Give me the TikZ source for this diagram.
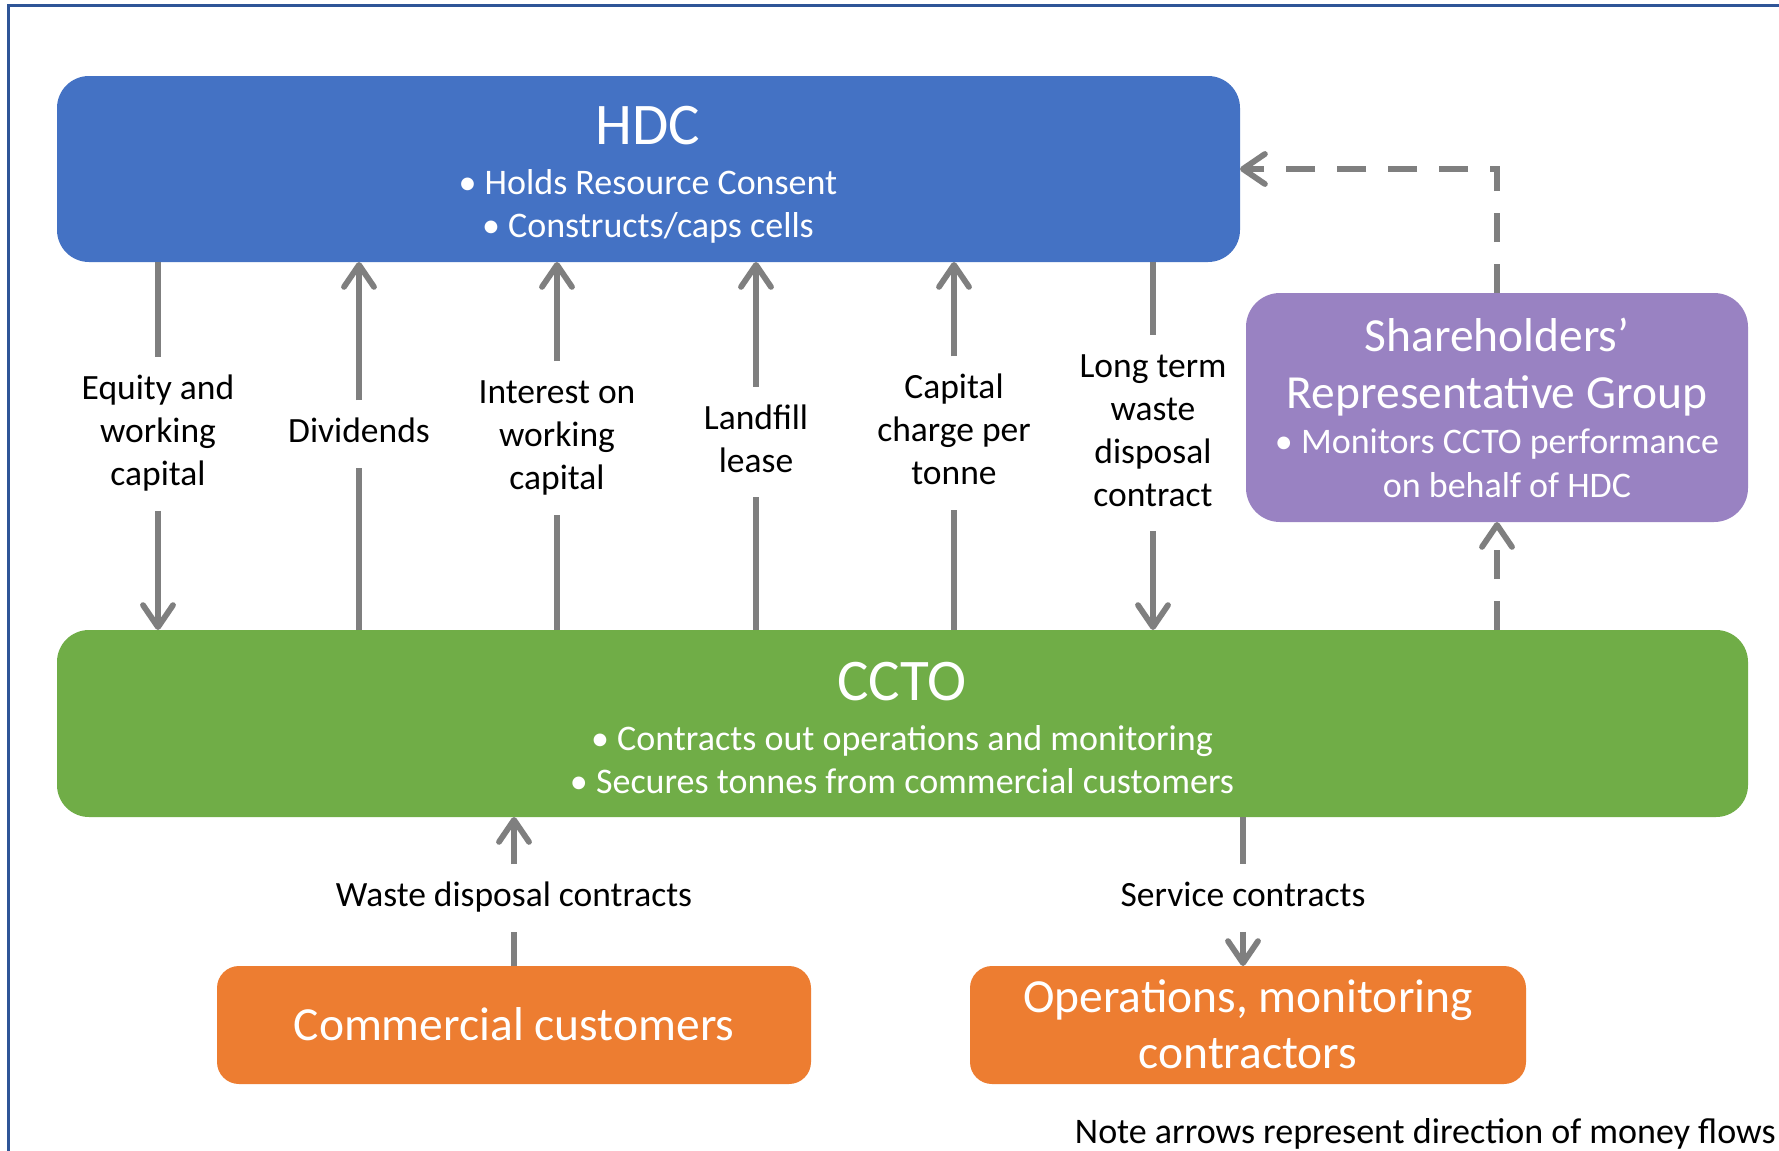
\documentclass[tikz,border=0pt]{standalone}
\usepackage{fontspec}
\setmainfont{Carlito}
\usetikzlibrary{arrows.meta}

\definecolor{hdcblue}{HTML}{4472C4}
\definecolor{cctogreen}{HTML}{70AD47}
\definecolor{custorange}{HTML}{ED7D31}
\definecolor{srgpurple}{HTML}{9982C2}
\definecolor{flowgray}{HTML}{7F7F7F}
\definecolor{frameblue}{HTML}{2F5597}

\newcommand{\ttlfont}{\fontsize{29.5pt}{35pt}\selectfont}
\newcommand{\bgfont}{\fontsize{23.75pt}{28pt}\selectfont}
\newcommand{\bdyfont}{\fontsize{18pt}{22pt}\selectfont}
\newcommand{\lblfont}{\fontsize{17.75pt}{21.5pt}\selectfont}

\tikzset{
  box/.style={rounded corners=16pt, inner sep=0pt, outer sep=0pt},
  flow/.style={draw=flowgray, line width=2.9pt},
  tipped/.style={-{Straight Barb[round,length=11pt,width=15pt]}},
  dashflow/.style={flow, dash pattern=on 14.5pt off 11pt},
  lbl/.style={align=center, inner xsep=1pt, inner ysep=6pt, font=\lblfont},
  intext/.style={text=white, anchor=base, inner sep=0pt},
}

\begin{document}
\begin{tikzpicture}[x=0.5pt, y=-0.5pt]
\useasboundingbox (0,0) rectangle (1779,1151);
\fill[white] (0,0) rectangle (1779,1151);

% frame lines along the top and left edges
\draw[frameblue, line width=1.5pt] (8,1151) -- (8,5) -- (1779,5);

% organisation boxes
\node[box, fill=hdcblue, minimum width=591.5pt, minimum height=93pt] (hdc) at (648.5,169) {};
\node[box, fill=cctogreen, minimum width=845.5pt, minimum height=93.5pt] (ccto) at (902.5,723.5) {};
\node[box, rounded corners=17pt, fill=srgpurple, minimum width=251pt, minimum height=114.5pt] (srg) at (1497,407.5) {};
\node[box, rounded corners=11pt, fill=custorange, minimum width=297pt, minimum height=59pt] (cust) at (514,1025) {};
\node[box, rounded corners=11pt, fill=custorange, minimum width=278pt, minimum height=59pt] (ops) at (1248,1025) {};

% box texts
\node[intext, font=\ttlfont] (hdc-title) at (648,144) {HDC};
\node[intext, font=\bdyfont] (hdc-b1) at (648,194) {• Holds Resource Consent};
\node[intext, font=\bdyfont] (hdc-b2) at (648,237) {• Constructs/caps cells};

\node[intext, font=\ttlfont] (ccto-title) at (902,700) {CCTO};
\node[intext, font=\bdyfont] (ccto-b1) at (902,750) {• Contracts out operations and monitoring};
\node[intext, font=\bdyfont] (ccto-b2) at (902,793) {• Secures tonnes from commercial customers};

\node[intext, font=\bgfont] (srg-t1) at (1497,351) {Shareholders’};
\node[intext, font=\bgfont] (srg-t2) at (1497,408) {Representative Group};
\node[intext, font=\bdyfont] (srg-b1) at (1497,453) {• Monitors CCTO performance};
\node[intext, font=\bdyfont] (srg-b2) at (1507,497) {on behalf of HDC};

\node[intext, font=\bgfont] (cust-t) at (514,1040) {Commercial customers};
\node[intext, font=\bgfont] (ops-t1) at (1248,1012) {Operations, monitoring};
\node[intext, font=\bgfont] (ops-t2) at (1248,1068) {contractors};

% flow labels between HDC and CCTO
\node[lbl] (eq)   at (158,434)  {\strut Equity and\\\strut working\\\strut capital};
\node[lbl] (div)  at (359,434)  {\strut Dividends};
\node[lbl] (int)  at (557,438)  {\strut Interest on\\\strut working\\\strut capital};
\node[lbl] (land) at (756,442)  {\strut Landfill\\\strut lease};
\node[lbl] (cap)  at (954,433)  {\strut Capital\\\strut charge per\\\strut tonne};
\node[lbl] (lt)   at (1153,433) {\strut Long term\\\strut waste\\\strut disposal\\\strut contract};

% HDC -> CCTO
\draw[flow] (hdc.south -| eq) -- (eq.north);
\draw[flow, tipped] (eq.south) -- (ccto.north -| eq);
\draw[flow] (hdc.south -| lt) -- (lt.north);
\draw[flow, tipped] (lt.south) -- (ccto.north -| lt);

% CCTO -> HDC
\foreach \n in {div,int,land,cap}{
  \draw[flow] (ccto.north -| \n) -- (\n.south);
  \draw[flow, tipped] (\n.north) -- (hdc.south -| \n);
}

% monitoring (dashed)
\draw[dashflow, tipped] (srg.north) |- (hdc.east);
\draw[dashflow, tipped] (ccto.north -| srg) -- (srg.south);

% contracts below CCTO
\node[lbl] (wdc) at (514,898)  {\strut Waste disposal contracts};
\node[lbl] (svc) at (1243,898) {\strut Service contracts};
\draw[flow] (cust.north -| wdc) -- (wdc.south);
\draw[flow, tipped] (wdc.north) -- (ccto.south -| wdc);
\draw[flow] (ccto.south -| svc) -- (svc.north);
\draw[flow, tipped] (svc.south) -- (ops.north -| svc);

% footnote
\node[anchor=base east, inner sep=0pt, font=\bdyfont] (note) at (1776,1143) {Note arrows represent direction of money flows};
\end{tikzpicture}
\end{document}
